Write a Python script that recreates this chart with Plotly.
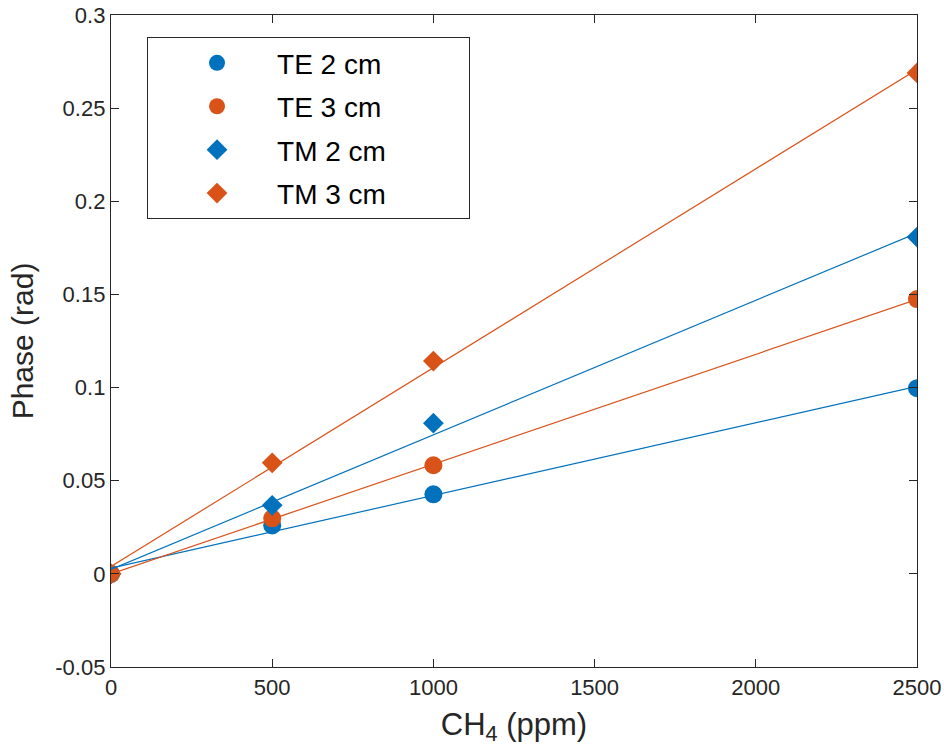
import numpy as np
import plotly.graph_objects as go

# Data
ch4_ppm = [0, 500, 1000, 2500]
te_2cm = [0.0, 0.026, 0.0427, 0.0997]
te_3cm = [0.0, 0.0298, 0.0583, 0.1475]
tm_2cm = [0.0, 0.0368, 0.0809, 0.1808]
tm_3cm = [0.0, 0.0596, 0.1142, 0.2689]
series_names = ["TE 2 cm", "TE 3 cm", "TM 2 cm", "TM 3 cm"]

x_ticks = [0, 500, 1000, 1500, 2000, 2500]
y_ticks = [-0.05, 0, 0.05, 0.1, 0.15, 0.2, 0.25, 0.3]
y_tick_text = ["-0.05", "0", "0.05", "0.1", "0.15", "0.2", "0.25", "0.3"]

BLUE = "#0072BD"
ORANGE = "#D95319"
FONT = "Liberation Sans, Arial, sans-serif"
AX = "#262626"
PAD = "\u00a0" * 10  # widen the legend box to match the reference

series = [
    (series_names[0], te_2cm, BLUE, "circle", 18),
    (series_names[1], te_3cm, ORANGE, "circle", 18),
    (series_names[2], tm_2cm, BLUE, "diamond", 16),
    (series_names[3], tm_3cm, ORANGE, "diamond", 16),
]

fig = go.Figure()

# markers
for i, (name, ys, col, sym, sz) in enumerate(series):
    fig.add_trace(go.Scatter(
        x=ch4_ppm, y=ys, mode="markers", name=name + PAD,
        legendgroup=f"g{i}",
        marker=dict(symbol=sym, size=sz, color=col, line=dict(width=0)),
    ))

# linear fit lines
xfit = np.array([min(ch4_ppm), max(ch4_ppm)], dtype=float)
for i, (name, ys, col, sym, sz) in enumerate(series):
    slope, icpt = np.polyfit(ch4_ppm, ys, 1)
    fig.add_trace(go.Scatter(
        x=xfit, y=slope * xfit + icpt, mode="lines", showlegend=False,
        line=dict(color=col, width=1.2), hoverinfo="skip",
    ))

axis_common = dict(
    showline=True, linecolor=AX, linewidth=1.3, mirror="ticks",
    ticks="inside", ticklen=8, tickwidth=1.3, tickcolor=AX,
    showgrid=False, zeroline=False, automargin=False,
    tickfont=dict(family=FONT, size=22, color=AX),
)

fig.update_layout(
    width=944, height=753,
    margin=dict(l=111, r=27, t=15, b=86),
    paper_bgcolor="white", plot_bgcolor="white",
    font=dict(family=FONT, color=AX),
    xaxis=dict(
        range=[0, 2500], tickvals=x_ticks,
        title=dict(text="CH<sub>4</sub> (ppm)", font=dict(family=FONT, size=31, color=AX), standoff=14),
        **axis_common,
    ),
    yaxis=dict(
        range=[-0.05, 0.3], tickvals=y_ticks, ticktext=y_tick_text,
        title=dict(text="Phase (rad)", font=dict(family=FONT, size=30, color=AX), standoff=12),
        **axis_common,
    ),
    legend=dict(
        x=0.0447, y=0.966, xanchor="left", yanchor="top",
        bgcolor="white", bordercolor=AX, borderwidth=1,
        font=dict(family=FONT, size=28, color="black"),
        itemwidth=110, indentation=9, tracegroupgap=4,
        itemclick=False,
    ),
    showlegend=True,
)

fig.write_html("out.html")
